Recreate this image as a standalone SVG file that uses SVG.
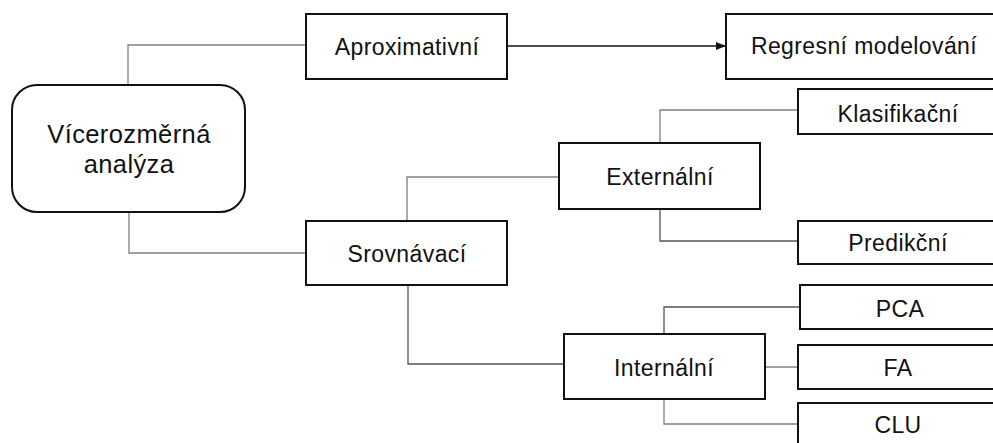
<svg xmlns="http://www.w3.org/2000/svg" width="993" height="443" viewBox="0 0 993 443">
<defs>
<marker id="arr" markerWidth="10" markerHeight="8" refX="10" refY="4" orient="auto" markerUnits="userSpaceOnUse">
<path d="M0,0 L10,4 L0,8 Z" fill="#111"/>
</marker>
<style>
.box{fill:#fff;stroke:#111;stroke-width:2}
.t{font-family:"Liberation Sans",Arial,sans-serif;font-size:23px;letter-spacing:0.4px;fill:#111;text-anchor:middle}
.tb{font-family:"Liberation Sans",Arial,sans-serif;font-size:25.5px;letter-spacing:0.4px;fill:#111;text-anchor:middle}
.c{fill:none;stroke:#808080;stroke-width:1.3}
.cd{fill:none;stroke:#555;stroke-width:1.3}
</style>
</defs>
<rect width="993" height="443" fill="#fff"/>
<g id="connectors">
<polyline class="c" points="128,85 128,45 306,45"/>
<polyline class="c" points="129,212 129,253 306,253"/>
<line x1="507" y1="46" x2="726" y2="46" stroke="#111" stroke-width="1.5" marker-end="url(#arr)"/>
<polyline class="c" points="407,221 407,177 559,177"/>
<polyline class="cd" points="408,285 408,364 564,364"/>
<polyline class="c" points="660,143 660,110 798,110"/>
<polyline class="cd" points="660,209 660,241 798,241"/>
<polyline class="cd" points="664,334 664,307 800,307"/>
<line class="c" x1="765" y1="367" x2="798" y2="367"/>
<polyline class="c" points="664,399 664,424 798,424"/>
</g>
<g id="n-main">
<rect class="box" x="12" y="85" width="233" height="127" rx="25" ry="25"/>
<text class="tb" x="129" y="143">Vícerozměrná</text>
<text class="tb" x="129" y="173">analýza</text>
</g>
<g id="n-aprox">
<rect class="box" x="306" y="14" width="201" height="65"/>
<text class="t" x="407" y="55">Aproximativní</text>
</g>
<g id="n-regres">
<rect class="box" x="726" y="14" width="280" height="65"/>
<text class="t" x="864" y="54">Regresní modelování</text>
</g>
<g id="n-srov">
<rect class="box" x="306" y="221" width="201" height="64"/>
<text class="t" x="407" y="262">Srovnávací</text>
</g>
<g id="n-ext">
<rect class="box" x="559" y="143" width="201" height="66"/>
<text class="t" x="660" y="185">Externální</text>
</g>
<g id="n-int">
<rect class="box" x="564" y="334" width="201" height="65"/>
<text class="t" x="664" y="376">Internální</text>
</g>
<g id="n-klas">
<rect class="box" x="798" y="89" width="205" height="45"/>
<text class="t" x="898" y="122">Klasifikační</text>
</g>
<g id="n-pred">
<rect class="box" x="798" y="221" width="205" height="43"/>
<text class="t" x="898" y="251">Predikční</text>
</g>
<g id="n-pca">
<rect class="box" x="800" y="285" width="203" height="44"/>
<text class="t" x="900" y="317">PCA</text>
</g>
<g id="n-fa">
<rect class="box" x="798" y="345" width="205" height="44"/>
<text class="t" x="898" y="376">FA</text>
</g>
<g id="n-clu">
<rect class="box" x="798" y="403" width="205" height="60"/>
<text class="t" x="898" y="433">CLU</text>
</g>
</svg>
